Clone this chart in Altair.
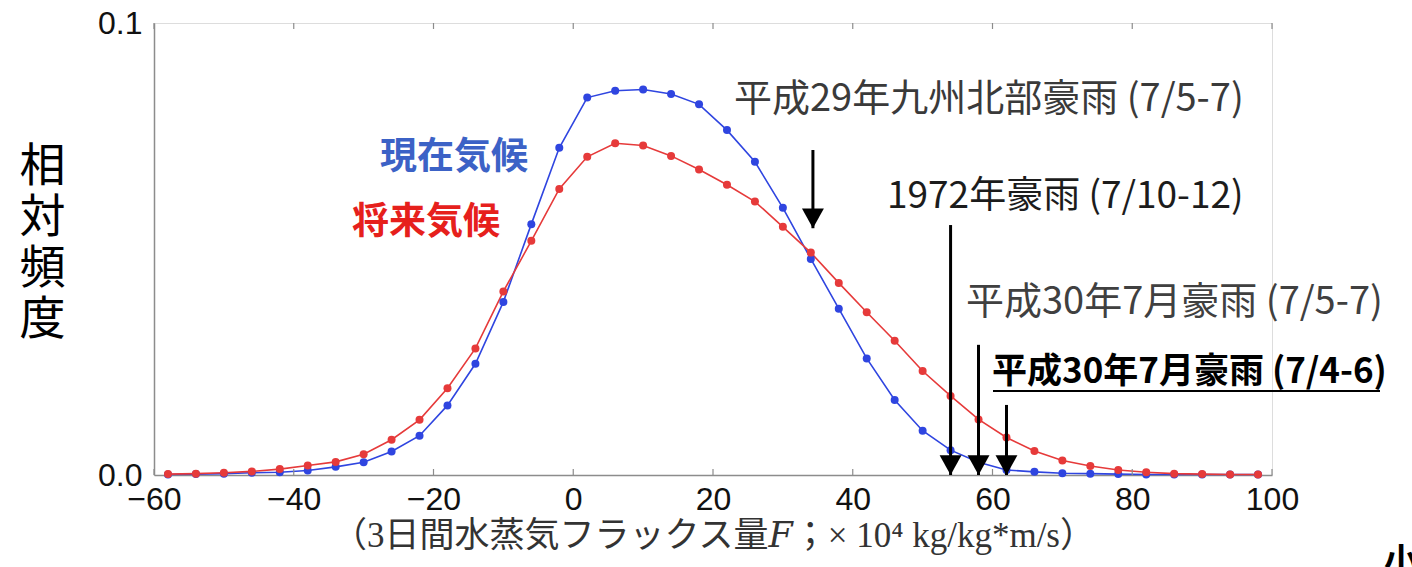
import altair as alt
import pandas as pd

# ---- data ----
flux = [-58, -54, -50, -46, -42, -38, -34, -30, -26, -22, -18, -14, -10, -6, -2,
        2, 6, 10, 14, 18, 22, 26, 30, 34, 38, 42, 46, 50, 54, 58, 62, 66, 70,
        74, 78, 82, 86, 90, 94, 98]
present = [0.0001, 0.0002, 0.0003, 0.0005, 0.0006, 0.0010, 0.0018, 0.0028, 0.0052,
           0.0087, 0.0154, 0.0246, 0.0383, 0.0555, 0.0724, 0.0835, 0.0850, 0.0853,
           0.0843, 0.0820, 0.0763, 0.0693, 0.0591, 0.0478, 0.0368, 0.0258, 0.0166,
           0.0098, 0.0055, 0.0028, 0.0011, 0.0007, 0.0004, 0.0003, 0.0002, 0.0001,
           0.0001, 0.0001, 0.0001, 0.0001]
future = [0.0002, 0.0003, 0.0005, 0.0008, 0.0013, 0.0021, 0.0029, 0.0046, 0.0078,
          0.0122, 0.0192, 0.0280, 0.0406, 0.0518, 0.0633, 0.0704, 0.0734, 0.0729,
          0.0706, 0.0676, 0.0642, 0.0605, 0.0549, 0.0492, 0.0425, 0.0360, 0.0297,
          0.0230, 0.0175, 0.0123, 0.0083, 0.0053, 0.0032, 0.0020, 0.0011, 0.0006,
          0.0003, 0.0002, 0.0001, 0.0001]
series_names = ["現在気候", "将来気候"]

x_ticks = [-60, -40, -20, 0, 20, 40, 60, 80, 100]
y_ticks = [0.0, 0.1]

event_names = ["平成29年九州北部豪雨 (7/5-7)", "1972年豪雨 (7/10-12)",
               "平成30年7月豪雨 (7/5-7)", "平成30年7月豪雨 (7/4-6)"]
event_flux = [34.3, 54, 58, 62]
arrow_top = [0.0719, 0.0553, 0.0288, 0.0155]
arrow_tip = [0.0546, 0.0, 0.0, 0.0]

W, H = 1118, 452

df = pd.DataFrame({
    "x": flux * 2,
    "y": present + future,
    "s": [series_names[0]] * len(flux) + [series_names[1]] * len(flux),
})
ev = pd.DataFrame({"name": event_names, "x": event_flux, "top": arrow_top, "tip": arrow_tip})
tk = pd.DataFrame({"t": x_ticks})

xs = alt.Scale(domain=[-60, 100], nice=False, zero=False)
ys = alt.Scale(domain=[0, 0.1], nice=False)

xaxis = alt.Axis(values=x_ticks, ticks=False, grid=False, labelFont="Liberation Sans",
                 labelFontSize=32, labelColor="#111", labelPadding=9,
                 domainColor="#8c8c8c", domainWidth=1.5, labelFlush=False,
                 title="（3日間水蒸気フラックス量𝐹；× 10⁴ kg/kg*m/s）",
                 titleFont="Liberation Serif, DejaVu Serif, Noto Sans CJK JP",
                 titleFontSize=35, titleFontWeight="normal", titleColor="#333",
                 titlePadding=3)
yaxis = alt.Axis(values=y_ticks, format=".1f", ticks=False, grid=False,
                 labelFont="Liberation Sans", labelFontSize=32, labelColor="#111",
                 labelPadding=12, domainColor="#8c8c8c", domainWidth=1.5,
                 labelFlush=False,
                 title=["相", "対", "頻", "度"], titleAngle=0, titleAlign="center",
                 titleBaseline="middle", titleX=-112, titleY=143,
                 titleFont="Noto Sans CJK JP", titleFontSize=46, titleLineHeight=51,
                 titleFontWeight="normal", titleColor="#000")

color = alt.Color("s:N", scale=alt.Scale(domain=series_names, range=["#2f45e0", "#e63a3a"]),
                  legend=None)
pcolor = alt.Color("s:N", scale=alt.Scale(domain=series_names, range=["#0b16c9", "#f01414"]),
                   legend=None)

base = alt.Chart(df)
lines = base.mark_line(strokeWidth=1.6).encode(
    x=alt.X("x:Q", scale=xs, axis=xaxis),
    y=alt.Y("y:Q", scale=ys, axis=yaxis),
    color=color, detail="s:N")
points = base.mark_circle(size=64, opacity=1).encode(
    x=alt.X("x:Q", scale=xs), y=alt.Y("y:Q", scale=ys), color=pcolor)

# inside ticks (bottom and top)
tb = alt.Chart(tk).mark_rule(color="#8c8c8c", strokeWidth=1.2).encode(
    x=alt.X("t:Q", scale=xs), y=alt.value(H), y2=alt.value(H - 6))
tt = alt.Chart(tk).mark_rule(color="#8c8c8c", strokeWidth=1.2).encode(
    x=alt.X("t:Q", scale=xs), y=alt.value(0), y2=alt.value(6))

# arrows
shaft = alt.Chart(ev).mark_rule(color="#000", strokeWidth=3).encode(
    x=alt.X("x:Q", scale=xs), y=alt.Y("top:Q", scale=ys), y2=alt.Y2("tip:Q"))
head = alt.Chart(ev).mark_point(shape="M-1,-1.8L1,-1.8L0,0Z", filled=True, size=480,
                                color="#000", opacity=1).encode(
    x=alt.X("x:Q", scale=xs), y=alt.Y("tip:Q", scale=ys))

def label(txt, x, y, size, color, weight="normal", align="left", font="Noto Sans CJK JP"):
    return alt.Chart(pd.DataFrame({"t": [txt]})).mark_text(
        align=align, baseline="middle", font=font, fontSize=size, fontWeight=weight,
        color=color, x=x, y=y).encode(text="t:N")

texts = [
    label(series_names[0], 374, 135, 37, "#3c62c6", "bold", "right"),
    label(series_names[1], 346, 200, 37, "#e6201c", "bold", "right"),
    label(event_names[0], 580, 77, 38, "#3a3a3a"),
    label(event_names[1], 733, 174, 37, "#1c1c1c"),
    label(event_names[2], 812, 280, 38, "#404040"),
    label(event_names[3], 838, 349, 35, "#000", "bold"),
    label("小", 1230, 540, 34, "#000", "bold"),
]
underline = alt.Chart(pd.DataFrame({"a": [0]})).mark_rule(color="#000", strokeWidth=2).encode(
    x=alt.value(839), x2=alt.value(1226), y=alt.value(368))

chart = alt.layer(lines, points, tb, tt, shaft, head, underline, *texts).properties(
    width=W, height=H,
    padding={"left": 154, "top": 23, "right": 140, "bottom": 92},
    autosize=alt.AutoSizeParams(type="none"),
).configure_view(stroke="#8c8c8c", strokeWidth=1.5).configure(background="white")

chart.save("out.html", embed_options={"renderer": "svg", "actions": False})
